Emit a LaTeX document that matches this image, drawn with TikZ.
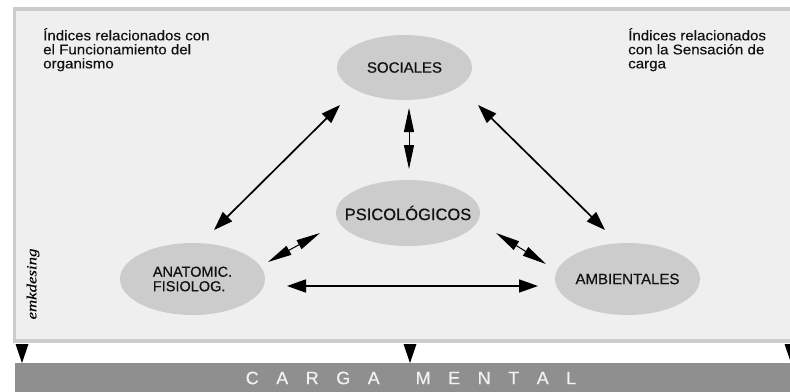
\documentclass[tikz,border=0pt]{standalone}
\usepackage{fontspec}
\setmainfont{Liberation Sans}[FakeBold=0.3]
\newfontfamily\blobfont[FakeBold=0.5]{Liberation Sans}
\newfontfamily\widefont[FakeStretch=1.08,FakeBold=0.3]{Liberation Sans}
\newfontfamily\signfont[FakeStretch=1.2,FakeBold=0.3]{Liberation Serif}
\usetikzlibrary{shapes.geometric,arrows.meta}
\definecolor{panel}{HTML}{EFEFEF}
\definecolor{rim}{HTML}{CCCCCC}
\definecolor{blob}{HTML}{CCCCCC}
\definecolor{barcol}{HTML}{8F8F8F}
\definecolor{bartext}{HTML}{F2F2F2}
\definecolor{ink}{HTML}{111111}
\newcommand\cmgap{\hspace{17.5pt}}
\begin{document}
\begin{tikzpicture}[x=1pt,y=-1pt,
  blobnode/.style={ellipse, fill=blob, draw=none, inner sep=0pt},
  blobtext/.style={text=ink, align=left},
  bigarrow/.style={{Triangle[length=19pt,width=13pt]}-{Triangle[length=19pt,width=13pt]}, line width=1.7pt, draw=black},
  smallarrow/.style={{Triangle[length=24pt,width=10pt]}-{Triangle[length=24pt,width=10pt]}, line width=1pt, draw=black},
  headlabel/.style={anchor=north west, inner sep=0pt, align=left, text=ink, font=\widefont\fontsize{14}{14}\selectfont},
  marker/.style={fill=black}]
\clip (0,0) rectangle (790,391);
\fill[white] (0,0) rectangle (790,391);
% panel
\filldraw[fill=panel, draw=rim, line width=3.5pt] (14.5,9) rectangle (812,341);
% bottom bar
\fill[barcol] (15,363) rectangle (800,395);
\node[text=bartext, inner sep=0pt, font=\fontsize{18}{18}\selectfont] (carga) at (411,378)
  {C\cmgap A\cmgap R\cmgap G\cmgap A\hspace{36pt}M\cmgap E\cmgap N\cmgap T\cmgap A\cmgap L};
% markers
\fill[marker] (15.5,344) -- (28.5,344) -- (22,363) -- cycle;
\fill[marker] (403.5,344) -- (416.5,344) -- (410,363) -- cycle;
\fill[marker] (784.5,344) -- (797.5,344) -- (791,363) -- cycle;
% labels
\node[headlabel] (lblL) at (43,28) {Índices relacionados con\\el Funcionamiento del\\organismo};
\node[headlabel] (lblR) at (628,28) {Índices relacionados\\con la Sensación de\\carga};
\node[rotate=90, inner sep=0pt, text=black, font=\signfont\itshape\fontsize{14}{14}\selectfont] (sig) at (33,284) {emkdesing};
% ellipses
\node[blobnode, minimum width=135pt, minimum height=65pt,
  label={[blobtext, font=\blobfont\fontsize{15}{15}\selectfont]center:SOCIALES}] (soc) at (404.5,67.5) {};
\node[blobnode, minimum width=144pt, minimum height=66pt,
  label={[blobtext, font=\blobfont\fontsize{16.5}{16.5}\selectfont]center:PSICOLÓGICOS}] (psi) at (408,213) {};
\node[blobnode, minimum width=145pt, minimum height=72pt,
  label={[blobtext, font=\blobfont\fontsize{14.5}{14.5}\selectfont]center:ANATOMIC.\\FISIOLOG.}] (ana) at (192.5,279) {};
\node[blobnode, minimum width=145pt, minimum height=72pt,
  label={[blobtext, font=\blobfont\fontsize{15}{15}\selectfont]center:AMBIENTALES}] (amb) at (627.5,279) {};
% connector ends
\coordinate (socA) at (340,105);
\coordinate (anaS) at (214,230);
\coordinate (socB) at (478,105);
\coordinate (ambS) at (605,230);
\coordinate (socP) at (409,108);
\coordinate (psiS) at (409,169);
\coordinate (anaM) at (287,286);
\coordinate (ambA) at (538,286);
\coordinate (psiA) at (320,233);
\coordinate (anaP) at (268,262);
\coordinate (psiB) at (496,233);
\coordinate (ambP) at (546,264);
% connectors
\draw[bigarrow] (socA) -- (anaS);
\draw[bigarrow] (socB) -- (ambS);
\draw[bigarrow] (anaM) -- (ambA);
\draw[smallarrow] (socP) -- (psiS);
\draw[smallarrow] (psiA) -- (anaP);
\draw[smallarrow] (psiB) -- (ambP);
\end{tikzpicture}
\end{document}
